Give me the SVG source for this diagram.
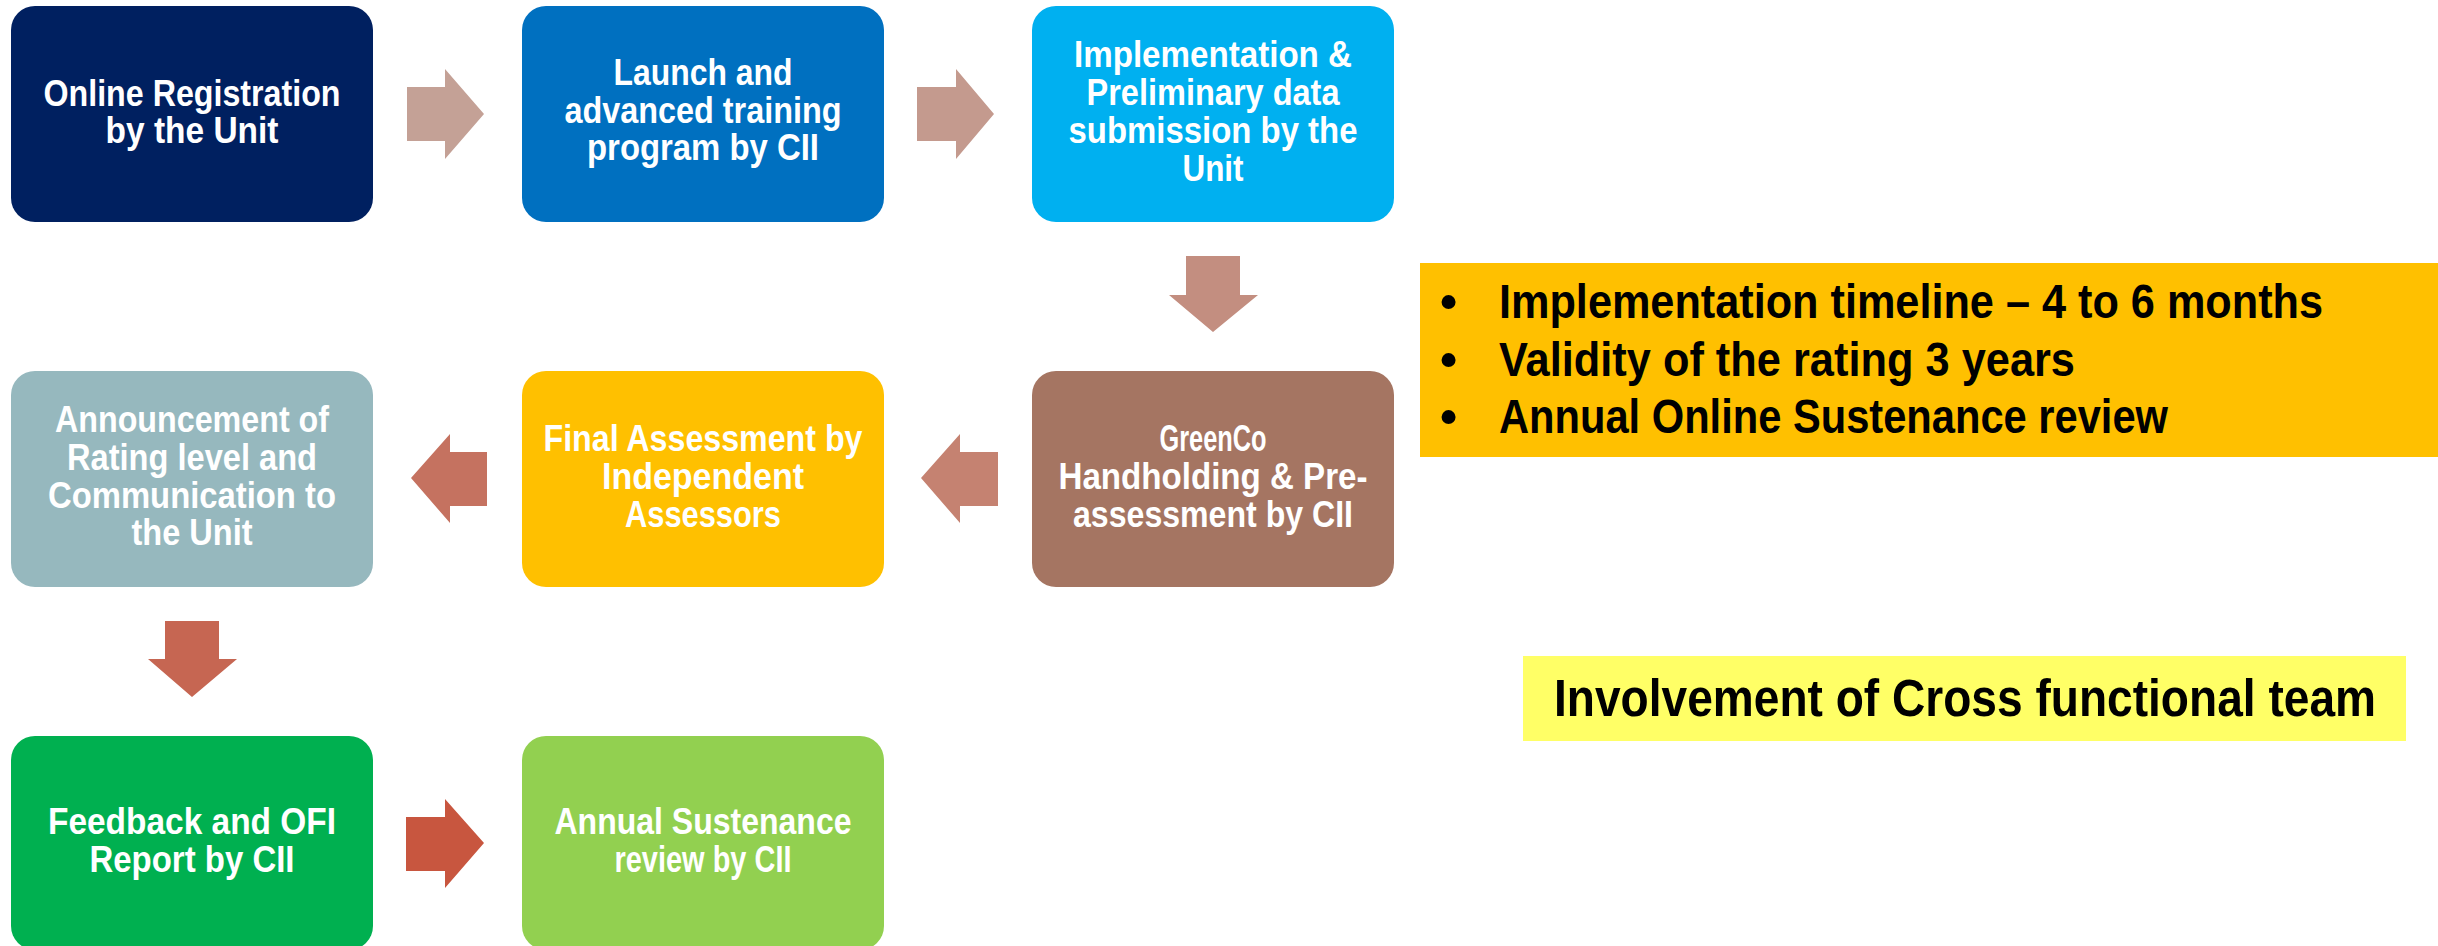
<svg xmlns="http://www.w3.org/2000/svg" width="2438" height="946" viewBox="0 0 2438 946">
<style>
.box{stroke:none}
.lbl{font-family:"Liberation Sans Narrow","Liberation Sans",Arial,sans-serif;font-weight:bold;font-size:36px;fill:#ffffff;text-anchor:middle}
.info{font-family:"Liberation Sans Narrow","Liberation Sans",Arial,sans-serif;font-weight:bold;font-size:49px;fill:#000000}
.inv{font-family:"Liberation Sans Narrow","Liberation Sans",Arial,sans-serif;font-weight:bold;font-size:51px;fill:#000000}
</style>
<rect width="2438" height="946" fill="#ffffff"/>
<g id="connectors">
<polygon points="407,87 445,87 445,69 484,114 445,159 445,141 407,141" fill="#C4A196"/>
<polygon points="917,87 956,87 956,69 994,114 956,159 956,141 917,141" fill="#C49A8E"/>
<polygon points="1186,256 1240,256 1240,295 1258,295 1213,332 1169,295 1186,295" fill="#C38E80"/>
<polygon points="998,452 960,452 960,434 921,478 960,523 960,506 998,506" fill="#C58271"/>
<polygon points="487,452 450,452 450,434 411,478 450,523 450,506 487,506" fill="#C57260"/>
<polygon points="165,621 219,621 219,659 237,659 192,697 148,659 165,659" fill="#C66652"/>
<polygon points="406,817 445,817 445,799 484,843 445,888 445,871 406,871" fill="#C8563F"/>
</g>
<g id="n1">
<rect class="box" x="11" y="6" width="362" height="216" rx="24" fill="#002060"/>
<text class="lbl"><tspan x="192" y="106" textLength="297" lengthAdjust="spacingAndGlyphs">Online Registration</tspan><tspan x="192" y="143" textLength="173" lengthAdjust="spacingAndGlyphs">by the Unit</tspan></text>
</g>
<g id="n2">
<rect class="box" x="522" y="6" width="362" height="216" rx="24" fill="#0070C0"/>
<text class="lbl"><tspan x="703" y="85" textLength="179" lengthAdjust="spacingAndGlyphs">Launch and</tspan><tspan x="703" y="123" textLength="277" lengthAdjust="spacingAndGlyphs">advanced training</tspan><tspan x="703" y="160" textLength="232" lengthAdjust="spacingAndGlyphs">program by CII</tspan></text>
</g>
<g id="n3">
<rect class="box" x="1032" y="6" width="362" height="216" rx="24" fill="#00B0F0"/>
<text class="lbl"><tspan x="1213" y="67" textLength="278" lengthAdjust="spacingAndGlyphs">Implementation &amp;</tspan><tspan x="1213" y="105" textLength="253" lengthAdjust="spacingAndGlyphs">Preliminary data</tspan><tspan x="1213" y="143" textLength="289" lengthAdjust="spacingAndGlyphs">submission by the</tspan><tspan x="1213" y="181" textLength="61" lengthAdjust="spacingAndGlyphs">Unit</tspan></text>
</g>
<g id="n4">
<rect class="box" x="1032" y="371" width="362" height="216" rx="24" fill="#A57562"/>
<text class="lbl"><tspan x="1213" y="451" textLength="107" lengthAdjust="spacingAndGlyphs">GreenCo</tspan><tspan x="1213" y="489" textLength="309" lengthAdjust="spacingAndGlyphs">Handholding &amp; Pre-</tspan><tspan x="1213" y="527" textLength="280" lengthAdjust="spacingAndGlyphs">assessment by CII</tspan></text>
</g>
<g id="n5">
<rect class="box" x="522" y="371" width="362" height="216" rx="24" fill="#FFC000"/>
<text class="lbl"><tspan x="703" y="451" textLength="319" lengthAdjust="spacingAndGlyphs">Final Assessment by</tspan><tspan x="703" y="489" textLength="202" lengthAdjust="spacingAndGlyphs">Independent</tspan><tspan x="703" y="527" textLength="156" lengthAdjust="spacingAndGlyphs">Assessors</tspan></text>
</g>
<g id="n6">
<rect class="box" x="11" y="371" width="362" height="216" rx="24" fill="#96B8BE"/>
<text class="lbl"><tspan x="192" y="432" textLength="274" lengthAdjust="spacingAndGlyphs">Announcement of</tspan><tspan x="192" y="470" textLength="250" lengthAdjust="spacingAndGlyphs">Rating level and</tspan><tspan x="192" y="508" textLength="288" lengthAdjust="spacingAndGlyphs">Communication to</tspan><tspan x="192" y="545" textLength="121" lengthAdjust="spacingAndGlyphs">the Unit</tspan></text>
</g>
<g id="n7">
<rect class="box" x="11" y="736" width="362" height="214" rx="24" fill="#00B050"/>
<text class="lbl"><tspan x="192" y="834" textLength="288" lengthAdjust="spacingAndGlyphs">Feedback and OFI</tspan><tspan x="192" y="872" textLength="205" lengthAdjust="spacingAndGlyphs">Report by CII</tspan></text>
</g>
<g id="n8">
<rect class="box" x="522" y="736" width="362" height="214" rx="24" fill="#92D050"/>
<text class="lbl"><tspan x="703" y="834" textLength="297" lengthAdjust="spacingAndGlyphs">Annual Sustenance</tspan><tspan x="703" y="872" textLength="177" lengthAdjust="spacingAndGlyphs">review by CII</tspan></text>
</g>
<g id="info">
<rect x="1420" y="263" width="1018" height="194" fill="#FFC000"/>
<text class="info"><tspan x="1440" y="318">•</tspan><tspan x="1499" y="318" textLength="824" lengthAdjust="spacingAndGlyphs">Implementation timeline – 4 to 6 months</tspan></text>
<text class="info"><tspan x="1440" y="376">•</tspan><tspan x="1499" y="376" textLength="576" lengthAdjust="spacingAndGlyphs">Validity of the rating 3 years</tspan></text>
<text class="info"><tspan x="1440" y="433">•</tspan><tspan x="1499" y="433" textLength="669" lengthAdjust="spacingAndGlyphs">Annual Online Sustenance review</tspan></text>
</g>
<g id="involvement">
<rect x="1523" y="656" width="883" height="85" fill="#FFFF66"/>
<text class="inv" x="1554" y="716" textLength="822" lengthAdjust="spacingAndGlyphs">Involvement of Cross functional team</text>
</g>
</svg>
